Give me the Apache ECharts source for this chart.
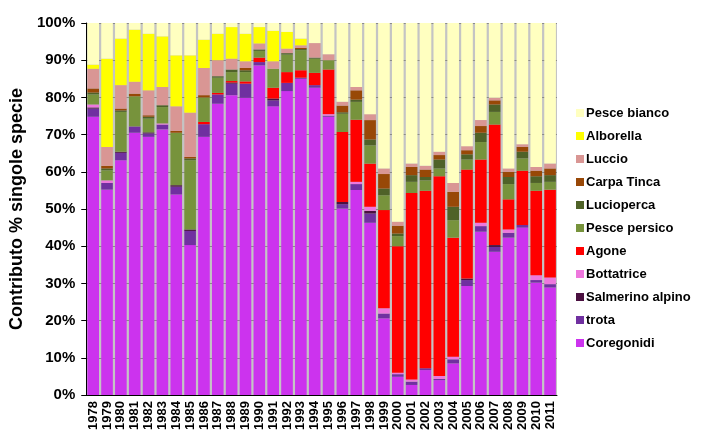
<!DOCTYPE html>
<html>
<head>
<meta charset="utf-8">
<script src="https://cdn.jsdelivr.net/npm/echarts@6/dist/echarts.min.js"></script>
<style>
  html, body { margin: 0; padding: 0; background: #fff; }
  #chart { width: 711px; height: 447px; }
</style>
</head>
<body>
<div id="chart"></div>
<script>
// anni
var years = ["1978","1979","1980","1981","1982","1983","1984","1985","1986","1987","1988","1989",
  "1990","1991","1992","1993","1994","1995","1996","1997","1998","1999","2000","2001","2002",
  "2003","2004","2005","2006","2007","2008","2009","2010","2011"];

// contributo % per specie (dal basso verso l'alto)
var coregonidi = [74.8,55.2,63.1,70.5,69.4,71.4,53.9,40.3,69.4,78.3,80.6,79.9,88.6,77.6,81.7,85.0,82.6,74.8,50.1,55.1,46.3,20.6,4.9,2.7,6.7,4.0,8.5,29.3,43.9,38.5,42.3,45.0,30.2,28.9];
var trota = [2.2,1.8,2.0,1.7,0.9,1.3,2.1,3.8,3.4,2.5,3.1,3.8,0.9,1.6,2.2,0.3,0.7,0.3,1.2,1.6,2.5,1.3,0.7,0.9,0.5,0.3,1.1,1.6,1.5,1.3,1.3,0.7,0.7,0.9];
var salmerino = [0.3,0,0.3,0,0.3,0,0.4,0.4,0,0,0.3,0,0,0.5,0,0,0,0,0.6,0,0.7,0,0,0,0,0,0,0.4,0,0.5,0,0,0,0];
var bottatrice = [0.8,0.7,0,0,0,0.3,0,0,0,0,0,0,0,0,0,0,0,0.4,0,0.6,1.1,1.4,0.4,0.6,0,0.8,0.7,0,0.9,0,0.9,0,1.3,1.8];
var agone = [0,0,0,0,0,0,0,0,0.6,0.4,0.4,0.6,1.2,2.9,2.9,2.0,3.3,12.0,18.8,16.7,11.6,26.4,34.0,50.1,47.7,53.7,32.0,29.3,17.0,32.4,8.1,14.6,22.7,23.6];
var pescePersico = [2.7,2.7,10.7,8.1,3.7,4.4,14.1,18.6,6.6,4.1,2.4,2.5,1.8,5.1,4.7,5.4,3.8,2.5,4.9,4.8,4.9,4.0,2.7,3.0,2.8,2.1,4.7,2.7,4.7,3.4,4.1,3.3,2.1,2.1];
var lucioperca = [0.5,0.5,0.4,0,0.5,0.5,0,0.5,0,0.4,0.7,0.5,0.4,0,0.4,0.3,0.3,0,0.4,0.6,1.6,1.8,0.7,1.8,0.9,2.4,3.6,1.4,2.5,2.0,1.9,1.8,1.8,1.8];
var carpaTinca = [1.1,0.7,0.5,0.7,0.4,0,0.5,0.4,0.6,0,0,0.6,0,0,0,0.3,0,0,1.8,2.5,5.2,3.9,2.1,2.2,2.0,1.2,4.0,1.1,1.8,1.1,1.4,1.3,1.5,1.8];
var luccio = [5.3,5.1,6.3,3.2,6.7,4.9,6.6,11.9,7.3,4.3,2.9,1.8,1.6,2.0,1.2,0.7,3.9,1.6,1.0,0.9,1.6,1.5,1.1,0.9,1.0,0.9,2.4,1.1,1.6,0.7,0.9,0.7,1.0,1.3];
var alborella = [1.1,23.7,12.5,14.0,15.2,13.6,13.7,15.4,7.6,7.1,8.5,7.4,4.4,8.2,4.5,1.8,0,0,0,0,0,0,0,0,0,0,0,0,0,0,0,0,0,0];
var pesceBianco = [11.2,9.6,4.2,1.8,2.9,3.6,8.7,8.7,4.5,2.9,1.1,2.9,1.1,2.1,2.4,4.2,5.4,8.4,21.2,17.2,24.5,39.1,53.4,37.8,38.4,34.6,43.0,33.1,26.1,20.1,39.1,32.6,38.7,37.8];

var yTicks = [0,10,20,30,40,50,60,70,80,90,100];

var specie = [
  { name: "Coregonidi", data: coregonidi, color: "#CC33EE" },
  { name: "trota", data: trota, color: "#7030A0" },
  { name: "Salmerino alpino", data: salmerino, color: "#4A1040" },
  { name: "Bottatrice", data: bottatrice, color: "#EE77DD" },
  { name: "Agone", data: agone, color: "#FF0000" },
  { name: "Pesce persico", data: pescePersico, color: "#77933C" },
  { name: "Lucioperca", data: lucioperca, color: "#4F6228" },
  { name: "Carpa Tinca", data: carpaTinca, color: "#984807" },
  { name: "Luccio", data: luccio, color: "#D99694" },
  { name: "Alborella", data: alborella, color: "#FFFF00" },
  { name: "Pesce bianco", data: pesceBianco, color: "#FFFFC0" }
];

var font = "Liberation Sans, Arial, sans-serif";
var chart = echarts.init(document.getElementById("chart"));

var option = {
  animation: false,
  backgroundColor: "#fff",
  grid: {
    left: 85, right: 154, top: 23, bottom: 52,
    show: true,
    backgroundColor: "#c4c4c4",
    borderWidth: 0
  },
  legend: {
    orient: "vertical",
    left: 571,
    top: 101,
    itemWidth: 8,
    itemHeight: 8,
    itemGap: 9,
    icon: "rect",
    data: specie.map(function (s) { return s.name; }).reverse(),
    textStyle: { fontFamily: font, fontWeight: "bold", fontSize: 13, lineHeight: 14, color: "#000", padding: [0, 0, 0, -3] }
  },
  xAxis: {
    type: "category",
    data: years,
    axisLine: { lineStyle: { color: "#000", width: 1 } },
    axisTick: { show: false },
    axisLabel: {
      interval: 0, rotate: 90, margin: 6,
      fontFamily: font, fontWeight: "bold", fontSize: 13, color: "#000"
    }
  },
  yAxis: {
    type: "value",
    min: yTicks[0], max: yTicks[yTicks.length - 1], interval: 10,
    name: "Contributo % singole specie",
    nameLocation: "middle",
    nameGap: 59,
    nameTextStyle: { fontFamily: font, fontWeight: "bold", fontSize: 18, color: "#000" },
    axisLine: { show: true, lineStyle: { color: "#000", width: 1 } },
    axisTick: { show: true, length: 5, lineStyle: { color: "#000" } },
    axisLabel: {
      formatter: "{value}%", margin: 11,
      fontFamily: font, fontWeight: "bold", fontSize: 15, color: "#000"
    },
    splitLine: { show: true, lineStyle: { color: "#8a8a8a", width: 1 } }
  },
  series: specie.map(function (s) {
    return {
      name: s.name,
      type: "bar",
      stack: "tot",
      data: s.data,
      barCategoryGap: "16%",
      itemStyle: { color: s.color }
    };
  })
};

chart.setOption(option);
</script>
</body>
</html>
